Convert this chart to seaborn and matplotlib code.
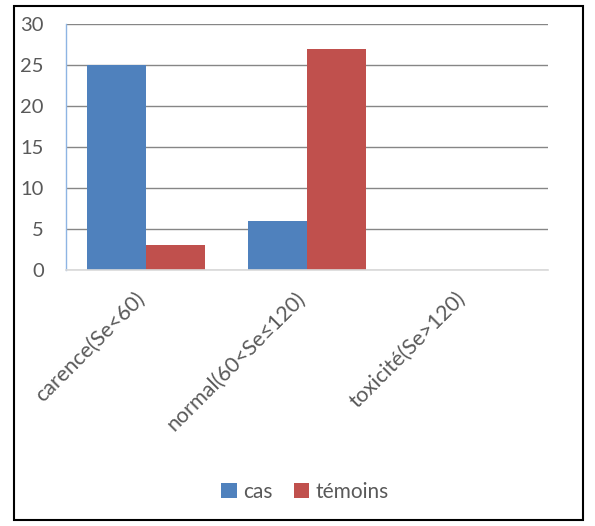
import matplotlib
matplotlib.use("Agg")
import matplotlib.pyplot as plt
import matplotlib.transforms as mtransforms
import seaborn as sns
import pandas as pd
from matplotlib.patches import Rectangle

categories = ["carence(Se<60)", "normal(60<Se≤120)", "toxicité(Se>120)"]
cas = [25, 6, 0]
temoins = [3, 27, 0]
series = ["cas", "témoins"]
colors = ["#4F81BD", "#C0504D"]

df = pd.DataFrame({
    "cat": categories * 2,
    "val": cas + temoins,
    "serie": [series[0]] * 3 + [series[1]] * 3,
})

sns.set_style("white")
plt.rcParams['font.family'] = ['Lato', 'DejaVu Sans']
txt = "#595959"

fig = plt.figure(figsize=(5.95, 5.26), dpi=100)
ax = fig.add_axes([66/595, 1 - 270/526, (548-66)/595, (270-24)/526])

sns.barplot(data=df, x="cat", y="val", hue="serie", palette=colors,
            width=0.735, gap=0, saturation=1, ax=ax, legend=True,
            edgecolor="none")

ax.set_ylim(0, 30)
ax.set_yticks([0, 5, 10, 15, 20, 25, 30])
ax.yaxis.grid(True, color="#868686", linewidth=1)
ax.set_axisbelow(True)
ax.set_xlabel("")
ax.set_ylabel("")
for s in ["top", "right"]:
    ax.spines[s].set_visible(False)
ax.spines["left"].set_color("#8EB4E3")
ax.spines["left"].set_linewidth(1)
ax.spines["bottom"].set_color("#D9D9D9")
ax.spines["bottom"].set_linewidth(1.2)
ax.tick_params(axis="y", length=0, labelsize=14.5, labelcolor=txt, pad=16)
ax.tick_params(axis="x", length=0, labelsize=15.5, labelcolor=txt, pad=13)
offset = mtransforms.ScaledTranslation(-12/100, 0, fig.dpi_scale_trans)
for lbl in ax.get_xticklabels():
    lbl.set_rotation(45)
    lbl.set_ha("right")
    lbl.set_rotation_mode("anchor")
    lbl.set_transform(lbl.get_transform() + offset)

handles, labels = ax.get_legend_handles_labels()
ax.get_legend().remove()
fig.legend(handles, labels, loc="center", bbox_to_anchor=(305/595, 1 - 492/526),
           ncol=2, frameon=False, fontsize=15, labelcolor=txt,
           handlelength=0.75, handleheight=0.75, handletextpad=0.3, columnspacing=1.0)

fig.patches.append(Rectangle((14/595, 6/526), (583-14)/595, (520-6)/526,
                             transform=fig.transFigure, fill=False,
                             edgecolor="black", linewidth=1.5))

fig.savefig("out.png", dpi=100)
